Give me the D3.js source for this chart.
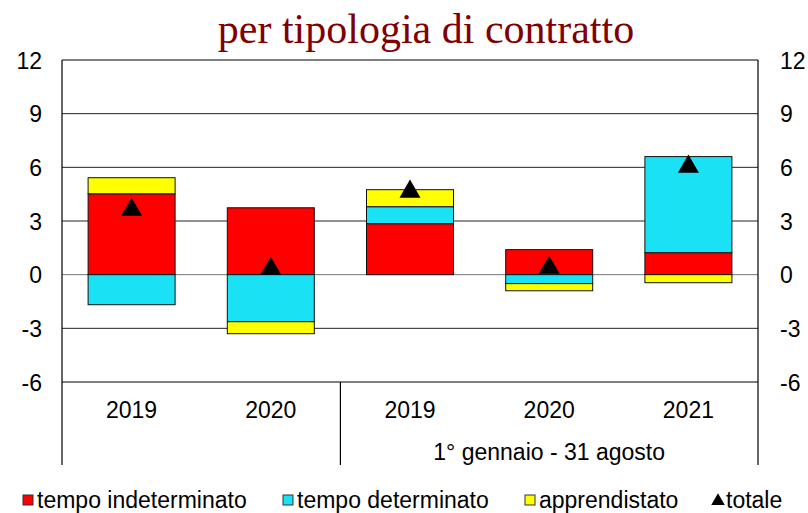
<!DOCTYPE html>
<html lang="it">
<head>
<meta charset="UTF-8">
<title>per tipologia di contratto</title>
<script src="https://d3js.org/d3.v7.min.js"></script>
<style>
  body { margin: 0; background: #fff; }
  text { font-family: "Liberation Sans", Arial, sans-serif; fill: #000; }
</style>
</head>
<body>
<div class="canvas"></div>
<script>
  // dati
  const categories = ["2019", "2020", "2019", "2020", "2021"];
  const indeterminato = [4.52, 3.74, 2.85, 1.4, 1.23];
  const determinato = [-1.68, -2.63, 0.95, -0.5, 5.37];
  const apprendistato = [0.9, -0.67, 0.95, -0.4, -0.45];
  const totale = [3.74, 0.44, 4.75, 0.5, 6.15];
  const yTicks = [-6, -3, 0, 3, 6, 9, 12];

  const series = [
    { name: "tempo indeterminato", values: indeterminato, color: "#ff0000" },
    { name: "tempo determinato", values: determinato, color: "#1be1f5" },
    { name: "apprendistato", values: apprendistato, color: "#ffff00" }
  ];

  const W = 808, H = 513;
  const pLeft = 62, pRight = 758, pTop = 60, pBottom = 382, boxBottom = 465;
  const fs = '23px';

  const svg = d3.select('.canvas').append('svg')
    .attr('width', W).attr('height', H);

  const x = d3.scaleBand().domain(d3.range(categories.length))
    .range([pLeft, pRight]).paddingInner(0.375).paddingOuter(0.1875);
  const y = d3.scaleLinear().domain([-6, 12]).range([pBottom, pTop]);

  // titolo
  svg.append('text')
    .attr('x', 426).attr('y', 43)
    .attr('text-anchor', 'middle')
    .style('font-family', '"Liberation Serif", "Times New Roman", serif')
    .style('font-size', '42px')
    .style('fill', '#800000')
    .text('per tipologia di contratto');

  // griglia
  svg.append('g').selectAll('line')
    .data(yTicks.filter(d => d > -6 && d < 12))
    .enter().append('line')
    .attr('x1', pLeft).attr('x2', pRight)
    .attr('y1', d => y(d)).attr('y2', d => y(d))
    .attr('stroke', d => d === 0 ? '#777' : '#222')
    .attr('stroke-width', 1);

  // barre impilate (positivi verso l'alto, negativi verso il basso)
  const segs = [];
  categories.forEach((c, i) => {
    let pos = 0, neg = 0;
    series.forEach(s => {
      const v = s.values[i];
      if (v >= 0) { segs.push({ i, y0: pos, y1: pos + v, color: s.color }); pos += v; }
      else { segs.push({ i, y0: neg + v, y1: neg, color: s.color }); neg += v; }
    });
  });

  svg.append('g').selectAll('rect')
    .data(segs).enter().append('rect')
    .attr('x', d => x(d.i))
    .attr('width', x.bandwidth())
    .attr('y', d => y(d.y1))
    .attr('height', d => y(d.y0) - y(d.y1))
    .attr('fill', d => d.color)
    .attr('stroke', '#111')
    .attr('stroke-width', 1);

  // totale
  const tri = d3.symbol().type(d3.symbolTriangle).size(190);
  svg.append('g').selectAll('path')
    .data(totale).enter().append('path')
    .attr('d', tri)
    .attr('transform', (d, i) => `translate(${x(i) + x.bandwidth() / 2},${y(d) + 2})`)
    .attr('fill', '#000');

  // cornice
  const frame = svg.append('g').attr('stroke', '#000').attr('stroke-width', 1.2);
  frame.append('line').attr('x1', pLeft).attr('x2', pRight).attr('y1', pTop).attr('y2', pTop);
  frame.append('line').attr('x1', pLeft).attr('x2', pRight).attr('y1', pBottom).attr('y2', pBottom);
  frame.append('line').attr('x1', pLeft).attr('x2', pLeft).attr('y1', pTop).attr('y2', boxBottom);
  frame.append('line').attr('x1', pRight).attr('x2', pRight).attr('y1', pTop).attr('y2', boxBottom);
  const sep = (x(1) + x.bandwidth() + x(2)) / 2;
  frame.append('line').attr('x1', sep).attr('x2', sep).attr('y1', pBottom).attr('y2', boxBottom);

  // assi
  const fmt = d => String(d);
  const yl = svg.append('g').attr('transform', `translate(${pLeft},0)`)
    .call(d3.axisLeft(y).tickValues(yTicks).tickFormat(fmt).tickSize(0).tickPadding(20));
  const yr = svg.append('g').attr('transform', `translate(${pRight},0)`)
    .call(d3.axisRight(y).tickValues(yTicks).tickFormat(fmt).tickSize(0).tickPadding(22));
  [yl, yr].forEach(a => {
    a.select('.domain').remove();
    a.selectAll('text').style('font-size', fs).style('font-family', '"Liberation Sans", Arial, sans-serif')
      .style('fill', '#000').attr('dy', '0.35em');
  });

  svg.append('g').selectAll('text')
    .data(categories).enter().append('text')
    .attr('x', (d, i) => x(i) + x.bandwidth() / 2)
    .attr('y', 418)
    .attr('text-anchor', 'middle')
    .style('font-size', fs)
    .text(d => d);

  svg.append('text')
    .attr('x', (sep + pRight) / 2).attr('y', 460)
    .attr('text-anchor', 'middle')
    .style('font-size', fs)
    .text('1° gennaio - 31 agosto');

  // legenda
  const legend = [
    { name: series[0].name, color: series[0].color, x: 23 },
    { name: series[1].name, color: series[1].color, x: 283 },
    { name: series[2].name, color: series[2].color, x: 525 },
    { name: "totale", color: null, x: 712 }
  ];
  const lg = svg.append('g');
  legend.forEach(l => {
    if (l.color) {
      lg.append('rect').attr('x', l.x).attr('y', 495).attr('width', 10).attr('height', 10)
        .attr('fill', l.color).attr('stroke', '#333').attr('stroke-width', 1);
    } else {
      lg.append('path').attr('d', d3.symbol().type(d3.symbolTriangle).size(80))
        .attr('transform', `translate(${l.x + 6},${501})`).attr('fill', '#000');
    }
    lg.append('text').attr('x', l.x + 14).attr('y', 508)
      .style('font-size', fs).text(l.name);
  });
</script>
</body>
</html>
